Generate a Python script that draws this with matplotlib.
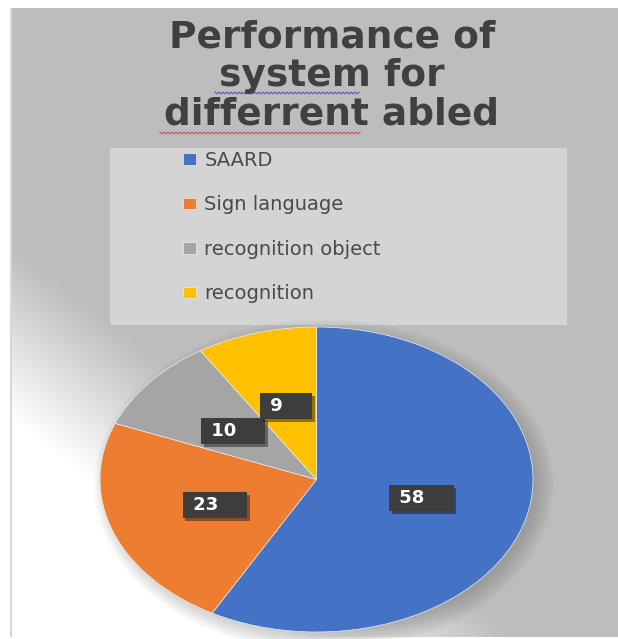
import numpy as np
import matplotlib.pyplot as plt
from matplotlib.patches import Rectangle, Ellipse
import matplotlib.patheffects as pe

labels = ["SAARD", "Sign language", "recognition object", "recognition"]
values = [58, 23, 10, 9]
colors = ["#4472C4", "#ED7D31", "#A5A5A5", "#FFC000"]
title = "Performance of\nsystem for\ndifferrent abled"

W, H = 618, 639
fig = plt.figure(figsize=(W / 100, H / 100), dpi=100)

# background: grey panel with a diagonal fade to white at the lower left
bg = fig.add_axes([0, 0, 1, 1])
yy, xx = np.mgrid[0:H, 0:W]
t = yy - 0.78 * xx
g = 0.745 + (1 - 0.745) * np.clip((t - 240) / 170.0, 0, 1)
img = np.dstack([g, g, g])
img[:8, :] = 1
img[:, :10] = 1
img[637:, :] = 1
img[8:637, 10:12] = 0.85
bg.imshow(img, extent=(0, W, H, 0), aspect="auto", interpolation="bilinear")
bg.set_xlim(0, W)
bg.set_ylim(H, 0)
bg.axis("off")

# title
fig.text(332 / W, 1 - 19 / H, title, ha="center", va="top", fontsize=27,
         fontweight="bold", color="#404040", linespacing=1.09,
         family=["DejaVu Sans"])

# spell-check squiggles
def squiggle(x0, x1, y, c):
    xs = np.arange(x0, x1, 2.0)
    ys = y + np.where(np.arange(len(xs)) % 2 == 0, -0.8, 0.8)
    bg.plot(xs, ys, color=c, lw=0.9, alpha=0.8)

squiggle(215, 360, 93, "#4050c0")
squiggle(160, 362, 133, "#d04050")

# legend box
bg.add_patch(Rectangle((110, 148), 457, 177, facecolor="#d6d6d6", edgecolor="none", alpha=0.95))

# soft shadow behind the pie
for k in range(10):
    bg.add_patch(Ellipse((324, 485), 424 + 4 * k, 296 + 4 * k, facecolor="#666666",
                         edgecolor="none", alpha=0.04, zorder=1))

# pie drawn as ellipse
ax = fig.add_axes([100 / W, 1 - 632 / H, 433 / W, 305 / H])
wedges, texts, autotexts = ax.pie(values, colors=colors, startangle=90, counterclock=False,
                                  autopct=lambda p: f" {p:.0f}    ", pctdistance=0.5,
                                  wedgeprops=dict(edgecolor="#e8eef8", linewidth=0.5))
ax.set_aspect("auto")
ax.set_xlim(-1, 1)
ax.set_ylim(-1, 1)
ax.axis("off")
for at in autotexts:
    at.set_color("white")
    at.set_fontsize(13)
    at.set_fontweight("bold")
    at.set_bbox(dict(boxstyle="square,pad=0.22", facecolor="#3d3d3d", edgecolor="none"))
    at.get_bbox_patch().set_path_effects([pe.SimplePatchShadow(offset=(2, -2), alpha=0.45),
                                          pe.Normal()])

leg = fig.legend(wedges, labels, loc="upper left", bbox_to_anchor=(180 / W, 1 - 148 / H),
                 frameon=False, fontsize=14, handlelength=0.65, handleheight=0.55,
                 handletextpad=0.45, labelspacing=1.31, borderaxespad=0, borderpad=0.15)
for tx in leg.get_texts():
    tx.set_color("#4a4a4a")

fig.savefig("out.png", dpi=100)
